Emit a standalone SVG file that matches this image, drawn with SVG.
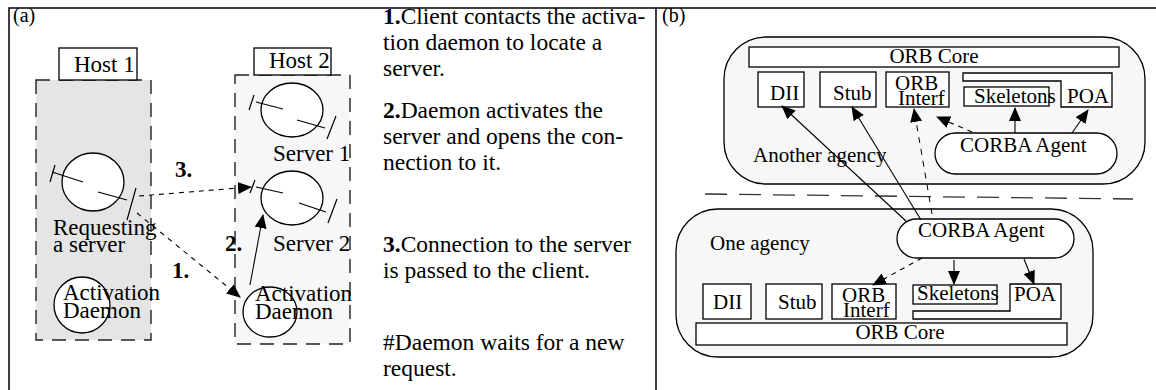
<svg xmlns="http://www.w3.org/2000/svg" width="1156" height="390" viewBox="0 0 1156 390">
<defs>
<style>
text{font-family:"Liberation Serif","Times New Roman",serif;fill:#000}
.a{font-size:23px}
.m{font-size:23.5px}
.b{font-size:21px}
.bold{font-weight:bold}
.frame{fill:none;stroke:#000;stroke-width:1.5}
.host{stroke:#222;stroke-width:1.4;stroke-dasharray:14 9}
.box{fill:#fff;stroke:#000;stroke-width:1.3}
.circ{fill:#fff;stroke:#000;stroke-width:1.3}
.tick{stroke:#000;stroke-width:1.2;fill:none}
.agency{fill:#f7f7f7;stroke:#000;stroke-width:1.3}
.solid{stroke:#000;stroke-width:1.1;fill:none}
.dash{stroke:#000;stroke-width:1.1;fill:none;stroke-dasharray:5 5}
.dash2{stroke:#000;stroke-width:1;fill:none;stroke-dasharray:6 6}
.div{stroke:#333;stroke-width:1.3;stroke-dasharray:22 12;fill:none}
</style>
<marker id="ah" markerWidth="14" markerHeight="12" refX="13" refY="6" orient="auto" markerUnits="userSpaceOnUse">
<path d="M0,0 L14,6 L0,12 Z" fill="#000"/>
</marker>
</defs>

<g id="frame">
<path class="frame" d="M9,390 V8 H1156 M656,8 V390"/>
<text class="a" x="13" y="22" style="font-size:20px">(a)</text>
<text class="b" x="662" y="22" style="font-size:20px">(b)</text>
</g>

<!-- Panel (a) -->
<g id="host1">
<rect class="host" x="36" y="80" width="115" height="260" fill="#e5e5e5"/>
<rect class="box" x="59" y="48" width="78" height="32"/>
<text class="a" x="74" y="72">Host 1</text>
</g>
<g id="host2">
<rect class="host" x="235" y="75" width="115" height="269" fill="#f7f7f7"/>
<rect class="box" x="254" y="48" width="77" height="27"/>
<text class="a" x="269" y="68">Host 2</text>
</g>

<g id="requesting">
<ellipse class="circ" cx="93" cy="182" rx="31" ry="29"/>
<path class="tick" d="M50,182 L55,165 M52,172 L83,182 M98,192 L127,200 M127,220 L136,188"/>
<text class="a" x="53" y="235">Requesting</text>
<text class="a" x="53" y="252">a server</text>
</g>
<g id="daemon1">
<ellipse class="circ" cx="82" cy="305" rx="28" ry="28"/>
<text class="a" x="63" y="300">Activation</text>
<text class="a" x="63" y="318">Daemon</text>
</g>
<g id="server1">
<ellipse class="circ" cx="292" cy="110" rx="31" ry="27"/>
<path class="tick" d="M249,110 L254,95 M256,102 L283,109 M297,120 L325,128 M327,139 L336,116"/>
<text class="a" x="273" y="161">Server 1</text>
</g>
<g id="server2">
<ellipse class="circ" cx="292" cy="198" rx="31" ry="27"/>
<path class="tick" d="M250,193 L255,180 M256,187 L283,193 M299,203 L326,212 M328,223 L337,199"/>
<text class="a" x="273" y="251">Server 2</text>
</g>
<g id="daemon2">
<ellipse class="circ" cx="270" cy="312" rx="27" ry="25"/>
<text class="a" x="255" y="301">Activation</text>
<text class="a" x="255" y="319">Daemon</text>
</g>

<g id="connectors-a">
<line class="dash" x1="139" y1="196" x2="251" y2="187" marker-end="url(#ah)"/>
<line class="dash" x1="137" y1="213" x2="240" y2="297" marker-end="url(#ah)"/>
<line class="solid" x1="250" y1="285" x2="263" y2="215" marker-end="url(#ah)"/>
<text class="a bold" x="175" y="177">3.</text>
<text class="a bold" x="225" y="251">2.</text>
<text class="a bold" x="172" y="278">1.</text>
</g>

<!-- middle text -->
<g id="steps">
<text class="m" x="383" y="24"><tspan class="bold">1.</tspan>Client contacts the activa-</text>
<text class="m" x="383" y="50">tion daemon to locate a</text>
<text class="m" x="383" y="76">server.</text>
<text class="m" x="383" y="118"><tspan class="bold">2.</tspan>Daemon activates the</text>
<text class="m" x="383" y="144">server and opens the con-</text>
<text class="m" x="383" y="170">nection to it.</text>
<text class="m" x="383" y="252"><tspan class="bold">3.</tspan>Connection to the server</text>
<text class="m" x="383" y="278">is passed to the client.</text>
<text class="m" x="383" y="350">#Daemon waits for a new</text>
<text class="m" x="383" y="376">request.</text>
</g>

<!-- Panel (b) -->
<g id="another-agency">
<rect class="agency" x="724" y="37" width="421" height="147" rx="42" ry="42"/>
<text class="b" x="753" y="162">Another agency</text>
</g>
<g id="orbcore-up">
<rect class="box" x="749" y="47" width="370" height="20"/>
<text class="b" x="934" y="63" text-anchor="middle">ORB Core</text>
</g>
<g id="dii-up"><rect class="box" x="758" y="72" width="46" height="35"/><text class="b" x="770" y="100">DII</text></g>
<g id="stub-up"><rect class="box" x="820" y="72" width="56" height="35"/><text class="b" x="833" y="100">Stub</text></g>
<g id="orbi-up"><rect class="box" x="886" y="72" width="63" height="35"/><text class="b" x="895" y="90">ORB</text><text class="b" x="898" y="105">Interf</text></g>
<g id="poa-up"><path class="box" d="M963,73 H1112 V107 H1061 V81 H963 Z"/><text class="b" x="1067" y="103">POA</text></g>
<g id="skel-up"><rect class="box" x="964" y="87" width="85" height="19"/><text class="b" x="974" y="103">Skeletons</text></g>
<g id="agent-up"><rect class="box" x="935" y="133" width="182" height="41" rx="20.5" ry="20.5"/><text class="b" x="960" y="152">CORBA Agent</text></g>

<g id="one-agency">
<rect class="agency" x="676" y="209" width="417" height="148" rx="42" ry="42"/>
<text class="b" x="710" y="250">One agency</text>
</g>
<g id="agent-low"><rect class="box" x="897" y="219" width="177" height="39" rx="19.5" ry="19.5"/><text class="b" x="918" y="237">CORBA Agent</text></g>
<g id="dii-low"><rect class="box" x="703" y="284" width="48" height="35"/><text class="b" x="713" y="309">DII</text></g>
<g id="stub-low"><rect class="box" x="766" y="284" width="56" height="35"/><text class="b" x="778" y="309">Stub</text></g>
<g id="orbi-low"><rect class="box" x="832" y="284" width="64" height="35"/><text class="b" x="842" y="302">ORB</text><text class="b" x="843" y="317">Interf</text></g>
<g id="poa-low"><path class="box" d="M1010,284 H1061 V319 H913 V311 H1010 Z"/><text class="b" x="1014" y="301">POA</text></g>
<g id="skel-low"><rect class="box" x="913" y="285" width="84" height="19"/><text class="b" x="917" y="300">Skeletons</text></g>
<g id="orbcore-low">
<rect class="box" x="696" y="323" width="371" height="22"/>
<text class="b" x="900" y="339" text-anchor="middle">ORB Core</text>
</g>

<g id="connectors-b">
<line class="div" x1="705" y1="194" x2="1133" y2="199"/>
<line class="solid" x1="907" y1="222" x2="782" y2="106" marker-end="url(#ah)"/>
<line class="solid" x1="921" y1="220" x2="852" y2="107" marker-end="url(#ah)"/>
<line class="dash2" x1="932" y1="214" x2="914" y2="109" marker-end="url(#ah)"/>
<line class="dash" x1="972" y1="132" x2="937" y2="117" marker-end="url(#ah)"/>
<line class="solid" x1="1015" y1="133" x2="1015" y2="108" marker-end="url(#ah)"/>
<line class="solid" x1="1072" y1="133" x2="1088" y2="110" marker-end="url(#ah)"/>
<line class="dash" x1="922" y1="258" x2="873" y2="285" marker-end="url(#ah)"/>
<line class="solid" x1="954" y1="260" x2="954" y2="284" marker-end="url(#ah)"/>
<line class="solid" x1="1024" y1="259" x2="1034" y2="284" marker-end="url(#ah)"/>
</g>
</svg>
